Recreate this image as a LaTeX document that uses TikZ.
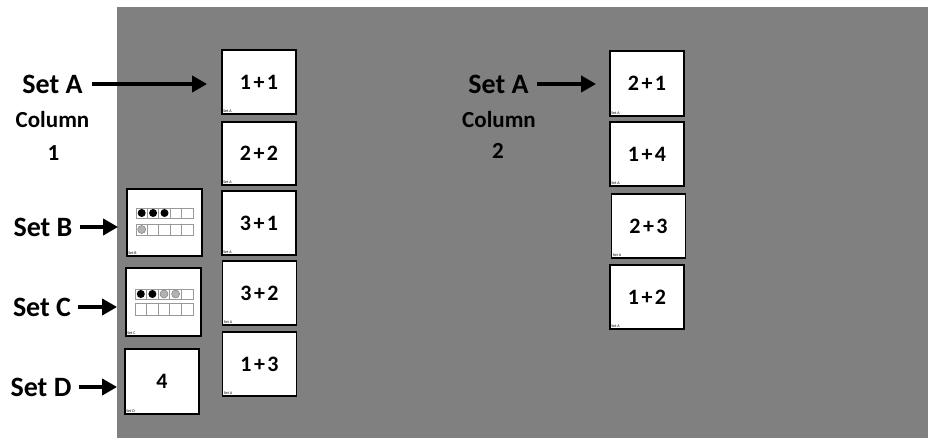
\documentclass[tikz,border=0pt]{standalone}
\usepackage{fontspec}
\setmainfont{Carlito}
\usetikzlibrary{arrows.meta}
\newcommand{\sumtxt}[2]{#1\hspace{2.5pt}+\hspace{2.5pt}#2}
\begin{document}
\begin{tikzpicture}[x=1pt,y=-1pt,
  card/.style={draw=black, line width=1.8pt, fill=white, inner sep=0pt,
    minimum width=74pt, minimum height=64pt, font=\bfseries\fontsize{22}{22}\selectfont},
  setlbl/.style={font=\bfseries\fontsize{28}{28}\selectfont, inner sep=0pt},
  collbl/.style={font=\bfseries\fontsize{23}{23}\selectfont, inner sep=0pt},
  tiny/.style={font=\fontsize{4}{4}\selectfont, inner sep=0pt, anchor=south west},
  arr/.style={-{Triangle[length=15pt,width=16pt]}, line width=4.5pt},
  frameline/.style={draw=gray!80, line width=0.8pt},
  bdot/.style={fill=black},
  gdot/.style={fill=gray!60, draw=gray, line width=0.5pt}
]
\useasboundingbox (0,0) rectangle (928,438);
\fill[fill={rgb,255:red,128;green,128;blue,128}] (117,7) rectangle (928,438);

% Column 1 cards
\node[card] (a1) at (259,82) {\sumtxt{1}{1}};
\node[card, minimum height=63pt] (a2) at (259,153.5) {\sumtxt{2}{2}};
\node[card] (a3) at (259,223) {\sumtxt{3}{1}};
\node[card] (a4) at (259.5,293) {\sumtxt{3}{2}};
\node[card] (a5) at (259.5,364) {\sumtxt{1}{3}};
\foreach \n in {a1,a2,a3,a4,a5}{\node[tiny] at ([shift={(2,-2)}]\n.south west) {Set A};}

% Set B, C, D cards
\node[card, minimum width=75pt, minimum height=67pt] (b) at (164.5,222.5) {};
\node[card, minimum width=75pt, minimum height=68pt] (c) at (163.5,302) {};
\node[card, minimum height=65pt] (d) at (162,381.5) {4};
\node[tiny] at ([shift={(2,-2)}]b.south west) {Set B};
\node[tiny] at ([shift={(2,-2)}]c.south west) {Set C};
\node[tiny] at ([shift={(2,-2)}]d.south west) {Set D};

% ten frame B
\begin{scope}[shift={(b.center)}]
  \foreach \r/\ya/\yb in {1/-14.5/-4.5, 2/1.5/12.5}{
    \draw[frameline] (-28.5,\ya) rectangle (28.5,\yb);
    \foreach \i in {1,...,4}{\draw[frameline] (-28.5+11.4*\i,\ya) -- (-28.5+11.4*\i,\yb);}
  }
  \foreach \i in {0,1,2}{\fill[bdot] (-22.8+11.4*\i,-9.5) circle (4pt);}
  \filldraw[gdot] (-22.8,7) circle (4pt);
\end{scope}

% ten frame C
\begin{scope}[shift={(c.center)}]
  \foreach \r/\ya/\yb in {1/-13/-3, 2/1/13}{
    \draw[frameline] (-28.5,\ya) rectangle (29.5,\yb);
    \foreach \i in {1,...,4}{\draw[frameline] (-28.5+11.6*\i,\ya) -- (-28.5+11.6*\i,\yb);}
  }
  \foreach \i in {0,1}{\fill[bdot] (-22.7+11.6*\i,-8) circle (4pt);}
  \foreach \i in {2,3}{\filldraw[gdot] (-22.7+11.6*\i,-8) circle (4pt);}
\end{scope}

% Column 2 cards
\node[card, minimum height=65pt] (e1) at (647,83.5) {\sumtxt{2}{1}};
\node[card] (e2) at (647,154) {\sumtxt{1}{4}};
\node[card] (e3) at (648.5,226) {\sumtxt{2}{3}};
\node[card] (e4) at (647,297) {\sumtxt{1}{2}};
\foreach \n in {e1,e2,e3,e4}{\node[tiny] at ([shift={(2,-2)}]\n.south west) {Set A};}

% Labels column 1
\node[setlbl] (sa1) at (52.5,84) {Set A};
\node[collbl] (c1) at (52.5,120) {Column};
\node[collbl] (n1) at (53.5,153) {1};
\node[setlbl] (sb) at (43,227) {Set B};
\node[setlbl] (sc) at (42,307) {Set C};
\node[setlbl] (sd) at (41,387) {Set D};

% Labels column 2
\node[setlbl] (sa2) at (498.5,84) {Set A};
\node[collbl] (c2) at (499,120) {Column};
\node[collbl] (n2) at (498,151) {2};

% Arrows
\draw[arr, shorten <=9pt, shorten >=14pt] (sa1.east) -- (sa1.east -| a1.west);
\draw[arr, shorten <=8pt, shorten >=13pt] (sa2.east) -- (sa2.east -| e1.west);
\draw[arr, shorten <=7pt, shorten >=8pt] (sb.east) -- (sb.east -| b.west);
\draw[arr, shorten <=7pt, shorten >=8pt] (sc.east) -- (sc.east -| c.west);
\draw[arr, shorten <=7pt, shorten >=7pt] (sd.east) -- (sd.east -| d.west);
\end{tikzpicture}
\end{document}
